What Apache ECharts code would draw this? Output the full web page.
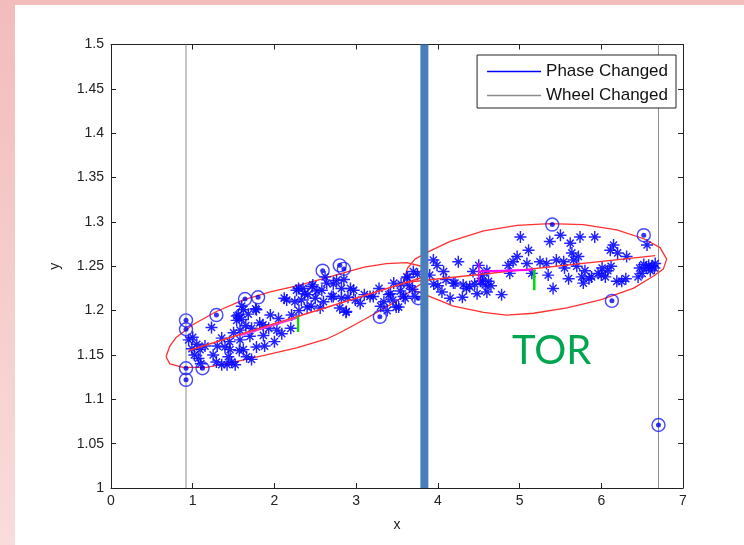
<!DOCTYPE html>
<html>
<head>
<meta charset="utf-8">
<script src="https://cdn.jsdelivr.net/npm/echarts@6/dist/echarts.min.js"></script>
<style>html,body{margin:0;padding:0;background:#fff;}#c{width:744px;height:545px;}</style>
</head>
<body>
<div id="c"></div>
<script>
// ---- data ----
var xTicks = {min: 0, max: 7, interval: 1};
var yTicks = {min: 1, max: 1.5, interval: 0.05};

var starPoints = [
  [0.95,1.167],[0.99,1.157],[1.09,1.156],[1.07,1.146],[1.02,1.150],[1.05,1.162],[1.23,1.181],[1.355,1.169],
  [1.29,1.142],[1.395,1.159],[1.436,1.148],[1.477,1.142],[1.538,1.189],[1.558,1.195],[1.579,1.178],[1.62,1.201],
  [1.579,1.167],[1.62,1.156],[1.66,1.148],[1.70,1.171],[1.72,1.18],[1.78,1.201],[1.78,1.159],[1.82,1.186],
  [1.865,1.172],[1.93,1.18],[2.03,1.178],[2.05,1.191],[2.09,1.174],[2.15,1.212],[2.21,1.195],[2.27,1.223],
  [2.33,1.212],[2.37,1.219],[2.40,1.204],[2.46,1.227],[2.50,1.214],[2.56,1.203],[2.58,1.223],[2.64,1.231],
  [2.70,1.216],[2.76,1.234],[2.80,1.203],[2.82,1.225],[1.457,1.156],[1.52,1.139],[1.355,1.139],[1.42,1.139],
  [1.54,1.194],[1.57,1.155],[1.77,1.202],[1.86,1.184],[2.12,1.214],[2.295,1.225],[2.41,1.218],[2.47,1.229],
  [2.82,1.214],[2.876,1.198],[2.93,1.225],[2.99,1.212],[3.17,1.216],[3.28,1.225],[3.34,1.21],[3.40,1.218],
  [3.46,1.231],[3.49,1.204],[3.54,1.222],[3.60,1.214],[3.63,1.237],[3.69,1.224],[3.75,1.241],[3.72,1.216],
  [2.97,1.223],[2.88,1.199],[2.72,1.216],[3.62,1.238],[3.70,1.244],[3.58,1.216],[3.52,1.204],[3.42,1.219],
  [3.21,1.216],[1.6,1.19],[1.65,1.183],[1.68,1.196],[1.5,1.175],[1.45,1.165],[1.3,1.16],[2.25,1.21],
  [2.35,1.225],[2.45,1.205],[2.52,1.222],[2.6,1.21],[2.62,1.238],[2.72,1.23],[2.85,1.235],[2.9,1.215],
  [1.25,1.15],[1.15,1.16],[1.1,1.14],[1.0,1.17],[1.95,1.195],[2.0,1.165],[1.88,1.16],[1.72,1.145],
  [1.6,1.205],[2.2,1.18],[2.3,1.2],[3.3,1.205],[3.38,1.2],[3.45,1.212],[3.55,1.23],[3.65,1.228],
  [3.1,1.218],[3.05,1.208],
  [3.945,1.257],[3.99,1.251],[4.07,1.244],[4.05,1.221],[4.15,1.214],[4.25,1.255],[4.21,1.231],[4.31,1.229],
  [4.35,1.225],[4.43,1.244],[4.50,1.251],[4.52,1.233],[4.58,1.229],[4.60,1.221],[4.48,1.219],[4.78,1.218],
  [4.86,1.251],[4.88,1.242],[4.97,1.261],[5.01,1.283],[5.09,1.253],[5.11,1.268],[5.33,1.253],[5.35,1.24],
  [5.37,1.278],[5.41,1.225],[5.45,1.257],[5.50,1.285],[5.54,1.255],[5.60,1.236],[5.62,1.276],[5.64,1.265],
  [5.66,1.257],[5.72,1.261],[5.74,1.283],[5.76,1.238],[5.78,1.231],[5.88,1.238],[5.92,1.283],[5.96,1.242],
  [6.01,1.248],[6.05,1.238],[6.11,1.268],[6.15,1.274],[6.19,1.233],[6.25,1.233],[6.31,1.261],[6.47,1.248],
  [6.50,1.242],[6.56,1.274],[6.58,1.251],[6.62,1.25],[6.66,1.253],[4.19,1.231],[4.39,1.227],[4.54,1.233],
  [4.62,1.233],[3.90,1.24],[3.95,1.23],[4.0,1.228],[4.1,1.235],[4.3,1.215],[4.45,1.23],[4.55,1.24],
  [4.6,1.245],[4.65,1.228],[5.25,1.255],[5.55,1.248],[5.7,1.25],[5.8,1.245],[5.85,1.236],[6.0,1.24],
  [6.08,1.245],[6.12,1.25],[6.2,1.265],[6.3,1.236],[6.45,1.238],[6.55,1.248],[6.6,1.245],[6.65,1.248],
  [6.52,1.252],[5.15,1.242],[4.92,1.255]
];

var circledPoints = [
  [0.918,1.189],[0.918,1.179],[0.918,1.135],[0.918,1.122],[1.12,1.135],[1.29,1.195],[1.64,1.213],[1.80,1.215],
  [2.59,1.245],[2.80,1.251],[2.85,1.247],[3.29,1.193],[3.76,1.214],[5.40,1.297],[6.52,1.285],[6.13,1.211],[6.70,1.071]
];

var ellipseLeft = [
  [0.673,1.148],[0.72,1.160],[0.80,1.170],[1.0,1.184],[1.29,1.199],[1.62,1.212],[1.95,1.221],[2.27,1.228],
  [2.60,1.236],[2.90,1.244],[3.10,1.249],[3.37,1.253],[3.62,1.254],[3.80,1.250],[3.87,1.244],[3.82,1.232],
  [3.70,1.224],[3.50,1.211],[3.10,1.190],[2.80,1.175],[2.64,1.168],[2.27,1.158],[1.90,1.150],[1.50,1.142],
  [1.17,1.136],[0.88,1.136],[0.72,1.140],[0.673,1.148]
];

var ellipseRight = [
  [3.58,1.234],[3.63,1.248],[3.72,1.258],[3.90,1.267],[4.15,1.278],[4.56,1.290],[4.97,1.296],[5.37,1.298],
  [5.78,1.297],[6.19,1.291],[6.52,1.281],[6.72,1.271],[6.80,1.258],[6.76,1.247],[6.64,1.239],[6.39,1.225],
  [5.99,1.212],[5.58,1.203],[5.17,1.197],[4.84,1.195],[4.56,1.198],[4.19,1.205],[3.95,1.214],[3.76,1.221],
  [3.64,1.227],[3.58,1.234]
];

var axisLineLeft = [[0.95,1.155],[3.80,1.237]];
var axisLineRight = [[3.62,1.232],[6.66,1.262]];
var magentaLeft = [[1.58,1.172],[2.29,1.192]];
var magentaRight = [[4.50,1.244],[5.17,1.246]];
var magentaTickRight = [[4.50,1.232],[4.50,1.254]];
var greenLeft = [[2.29,1.176],[2.29,1.193]];
var greenRight = [[5.18,1.223],[5.18,1.246]];

var wheelX = [0.918, 6.70];
var phaseX = 3.835;
var legendNames = ['Phase Changed', 'Wheel Changed'];
var annotation = 'TOR';

// ---- chart ----
var starPath = 'path://M8.8,0 H11.2 V20 H8.8 Z M0,8.8 H20 V11.2 H0 Z ' +
  'M3.2,4.9 L4.9,3.2 L16.8,15.1 L15.1,16.8 Z M15.1,3.2 L16.8,4.9 L4.9,16.8 L3.2,15.1 Z';
var legendLineIcon = 'path://M0,0 L0,0 M0,7.7 H54 V9.3 H0 Z M54,17 L54,17';

function vline(x){ return [[x, yTicks.min],[x, yTicks.max]]; }
function seg(name, data, color, width, z){
  return {name: name, type:'line', data: data, symbol:'none', silent:true, z: z||3,
    lineStyle:{color: color, width: width}, itemStyle:{color: color}, animation:false};
}

var font = 'Liberation Sans';
var axisCommon = {
  axisLine:{show:true, onZero:false, lineStyle:{color:'#222', width:1}},
  axisTick:{show:true, inside:true, length:5, lineStyle:{color:'#222', width:1}},
  splitLine:{show:false}
};

var chart = echarts.init(document.getElementById('c'));
var option = {
  animation:false,
  backgroundColor:'transparent',
  graphic:[
    {type:'rect', z:-100, shape:{x:0,y:0,width:744,height:545},
      style:{fill:new echarts.graphic.LinearGradient(0,0,0,1,[{offset:0,color:'#f2bcbc'},{offset:1,color:'#f9dcdc'}])}},
    {type:'rect', z:-99, shape:{x:15,y:5,width:729,height:540}, style:{fill:'#ffffff'}},
    {type:'text', z:100, left:512, top:331, style:{text: annotation, fill:'#00a550', font:'40px Lato'}}
  ],
  grid:{left:111, top:44.5, right:61, bottom:57},
  legend:{
    data: legendNames.map(function(n){ return {name:n, icon: legendLineIcon}; }),
    orient:'vertical', right:68, top:55,
    backgroundColor:'#fff', borderColor:'#222', borderWidth:1,
    padding:[8,8,4,10], itemWidth:54, itemHeight:17, itemGap:7,
    textStyle:{fontFamily:font, fontSize:17, color:'#111'},
    selectedMode:false
  },
  xAxis:[
    Object.assign({type:'value', min:xTicks.min, max:xTicks.max, interval:xTicks.interval, position:'bottom',
      name:'x', nameLocation:'middle', nameGap:30,
      nameTextStyle:{fontFamily:font, fontSize:14, color:'#222'},
      axisLabel:{fontFamily:font, fontSize:14, color:'#222', margin:6}}, axisCommon),
    Object.assign({type:'value', min:xTicks.min, max:xTicks.max, interval:xTicks.interval, position:'top',
      axisLabel:{show:false}}, axisCommon)
  ],
  yAxis:[
    Object.assign({type:'value', min:yTicks.min, max:yTicks.max, interval:yTicks.interval, position:'left',
      name:'y', nameLocation:'middle', nameGap:49, nameRotate:90,
      nameTextStyle:{fontFamily:font, fontSize:14, color:'#222'},
      axisLabel:{fontFamily:font, fontSize:14, color:'#222', margin:7}}, axisCommon),
    Object.assign({type:'value', min:yTicks.min, max:yTicks.max, interval:yTicks.interval, position:'right',
      axisLabel:{show:false}}, axisCommon)
  ],
  series:[
    seg('Wheel Changed', vline(wheelX[0]), '#8c8c8c', 1, 2),
    seg('Wheel Changed', vline(wheelX[1]), '#8c8c8c', 1, 2),
    seg('Phase Changed', vline(phaseX), '#0000ff', 1.5, 2),
    seg('ell1', ellipseLeft, '#ff3030', 1.3, 4),
    seg('ell2', ellipseRight, '#ff3030', 1.3, 4),
    {name:'stars', type:'scatter', data: starPoints, symbol: starPath, symbolSize: 12,
      itemStyle:{color:'#0a0aff', opacity:0.9}, z:5, silent:true},
    {name:'circled', type:'scatter', data: circledPoints, symbol:'circle', symbolSize: 13,
      itemStyle:{color:'rgba(0,0,0,0)', borderColor:'#1a1aff', borderWidth:1.4}, z:6, silent:true},
    {name:'circledDot', type:'scatter', data: circledPoints, symbol:'circle', symbolSize: 5,
      itemStyle:{color:'#0000ee'}, z:6, silent:true},
    seg('ax1', axisLineLeft, '#ff3030', 1.4, 7),
    seg('ax2', axisLineRight, '#ff3030', 1.4, 7),
    seg('mag1', magentaLeft, '#ff33cc', 1.6, 8),
    seg('mag2', magentaRight, '#ff00ff', 2, 8),
    seg('mag3', magentaTickRight, '#ff00ff', 1.5, 8),
    seg('g1', greenLeft, '#00dd00', 2.2, 9),
    seg('g2', greenRight, '#00dd00', 2.5, 9),
    seg('bar', vline(phaseX), '#4a7ebb', 8, 10)
  ]
};
chart.setOption(option);
</script>
</body>
</html>
